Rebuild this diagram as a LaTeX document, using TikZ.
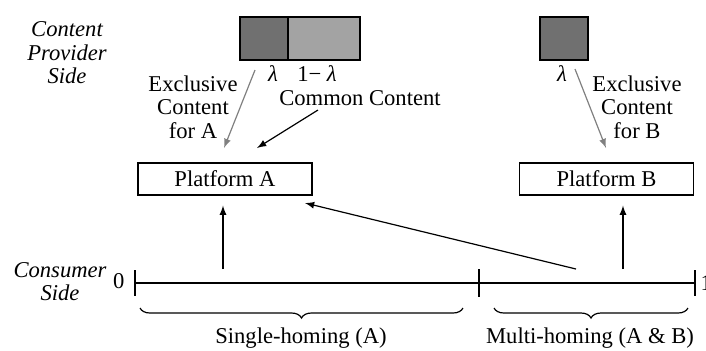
\documentclass[tikz,border=0pt]{standalone}
\usepackage{fontspec}
\setmainfont{Liberation Serif}
\newfontfamily\tnr{Liberation Serif}
\usetikzlibrary{decorations.pathreplacing}
\definecolor{darkc}{gray}{0.44}
\definecolor{lightc}{gray}{0.64}
\tikzset{plat/.style = {draw, minimum width=87pt, minimum height=16pt, inner sep=0pt},
         cbox/.style = {draw, inner sep=0pt, minimum height=21.5pt},
         lbl/.style = {align=center, inner sep=0pt},
         brc/.style = {decorate, decoration={brace, mirror, amplitude=5pt}},
         garrow/.style = {-latex, gray}
        }

\begin{document}
\begin{tikzpicture}[x=0.5pt, y=-0.5pt, line width=0.6pt, font=\tnr\fontsize{11.3}{11.75}\selectfont]
\useasboundingbox (0,0) rectangle (706,350);
% content provider side
\node[lbl, font=\tnr\itshape\fontsize{11.3}{11.75}\selectfont] at (67,53) (cps) {Content\\Provider\\Side};
\node[cbox, fill=darkc, minimum width=24pt] at (264,38.5) (exA) {};
\node[cbox, fill=lightc, minimum width=36pt] at (324,38.5) (com) {};
\node[cbox, fill=darkc, minimum width=24pt] at (564,38.5) (exB) {};
\node[lbl] at (273,74) (lamA) {\itshape λ};
\node[lbl] at (317,74) (lamC) {1− \itshape λ};
\node[lbl] at (562,74) (lamB) {\itshape λ};
\node[lbl] at (193,107) (txA) {Exclusive\\Content\\for A};
\node[lbl] at (360,98) (txC) {Common Content};
\node[lbl] at (637,107) (txB) {Exclusive\\Content\\for B};
% platforms
\node[plat] at (225,179) (pA) {Platform A};
\node[plat] at (606.5,179) (pB) {Platform B};
\coordinate (ga1) at (255,70);
\coordinate (ga2) at (224,148);
\coordinate (gb1) at (575,69);
\coordinate (gb2) at (606,148);
\coordinate (cs) at (318,110);
\coordinate (ct) at (257,148);
\draw[garrow] (ga1) -- (ga2);
\draw[garrow] (gb1) -- (gb2);
\draw[-latex] (cs) -- (ct);
% consumer side
\node[lbl, font=\tnr\itshape\fontsize{11.3}{11.75}\selectfont] at (60,281.5) (cos) {Consumer\\Side};
\coordinate (o) at (135,283);
\coordinate (m) at (479,283);
\coordinate (e) at (695,283);
\node[lbl, anchor=east] at (125,281) (zero) {0};
\node[lbl, anchor=west] at (700,283) (one) {1};
\draw (o) -- (e);
\draw (o) ++(0,-13) -- ++(0,26);
\draw (m) ++(0,-14) -- ++(0,28);
\draw (e) ++(0,-13) -- ++(0,26);
\coordinate (ua) at (223,269);
\coordinate (ub) at (623,269);
\coordinate (um) at (576,269);
\coordinate (dtip) at (305,203);
\draw[-latex, shorten >=5pt] (ua) -- (ua |- pA.south);
\draw[-latex, shorten >=5pt] (ub) -- (ub |- pB.south);
\draw[-latex] (um) -- (dtip);
% braces
\draw[brc] (140,308) -- (463,308);
\draw[brc] (494,308) -- (688,308);
\node[lbl] at (301,338) (sh) {Single-homing (A)};
\node[lbl] at (590,338) (mh) {Multi-homing (A \& B)};
\end{tikzpicture}
\end{document}
